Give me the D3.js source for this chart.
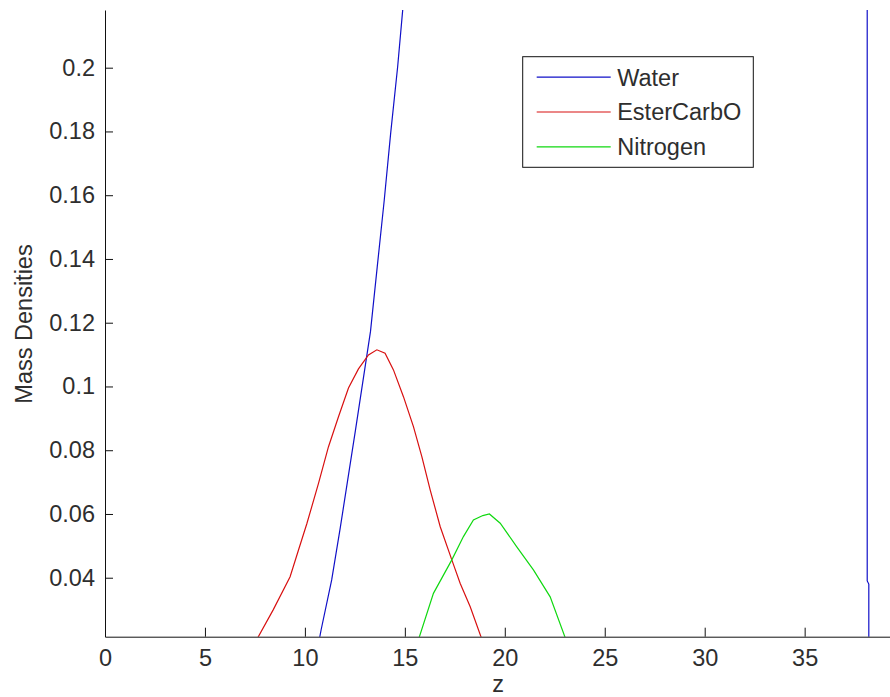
<!DOCTYPE html>
<html>
<head>
<meta charset="utf-8">
<script src="https://cdn.jsdelivr.net/npm/d3@7"></script>
<style>
  html, body { margin: 0; padding: 0; background: #fff; overflow: hidden; }
  svg { display: block; font-family: "Liberation Sans", Arial, sans-serif; }
  .axis text { font-size: 23.5px; fill: #2e2e2e; }
  .axis path, .axis line { stroke: #111; }
</style>
</head>
<body>
<script>
// series (z, mass density)
let waterZ = [10.64, 10.81, 11.34, 11.76, 12.53, 13.28, 13.62, 13.97, 14.29, 14.64, 14.89, 15.3, 16, 20, 30, 38.13, 38.13, 38.21, 38.21]
let waterV = [0.018, 0.0236, 0.0393, 0.0553, 0.0863, 0.1172, 0.1376, 0.1585, 0.1794, 0.2003, 0.2179, 0.2466, 0.3, 1.0, 1.0, 1.0, 0.039, 0.038, 0.018]

let esterZ = [7.45, 8.42, 9.26, 9.68, 10.1, 10.68, 11.18, 11.68, 12.18, 12.68, 13.18, 13.6, 14.01, 14.43, 14.93, 15.43, 15.85, 16.27, 16.77, 17.35, 17.77, 18.27, 18.95]
let esterV = [0.019, 0.030, 0.0403, 0.0487, 0.057, 0.0696, 0.0811, 0.0905, 0.0995, 0.1055, 0.1099, 0.1115, 0.1104, 0.1052, 0.0968, 0.0874, 0.078, 0.0675, 0.056, 0.0456, 0.0382, 0.0309, 0.019]

let nitroZ = [15.6, 16.43, 17.35, 17.93, 18.43, 18.9, 19.23, 19.77, 20.6, 21.44, 22.27, 23.15]
let nitroV = [0.019, 0.0351, 0.0456, 0.0529, 0.0581, 0.0595, 0.060, 0.0571, 0.0497, 0.0424, 0.034, 0.019]

let seriesNames = ["Water", "EsterCarbO", "Nitrogen"]
let seriesColors = ["#1010c8", "#d81010", "#10d810"]

let xTicks = [0, 5, 10, 15, 20, 25, 30, 35]
let yTicks = [0.04, 0.06, 0.08, 0.1, 0.12, 0.14, 0.16, 0.18, 0.2]

let w = 890
let h = 697
let plotLeft = 105
let plotTop = 10
let plotRight = 890.6
let plotBottom = 636.7

let svg = d3.select("body").append("svg")
  .attr("width", w)
  .attr("height", h)

let xScale = d3.scaleLinear().domain([0, 39.3]).range([plotLeft, plotRight])
let yScale = d3.scaleLinear().domain([0.0215, 0.2181]).range([plotBottom, plotTop])

svg.append("clipPath").attr("id", "plot-clip")
  .append("rect")
  .attr("x", plotLeft)
  .attr("y", plotTop)
  .attr("width", plotRight - plotLeft)
  .attr("height", plotBottom - plotTop)

// lines
let series = [
  {z: waterZ, v: waterV},
  {z: esterZ, v: esterV},
  {z: nitroZ, v: nitroV}
]

let line = d3.line()
  .x(d => xScale(d[0]))
  .y(d => yScale(d[1]))

let plot = svg.append("g").attr("clip-path", "url(#plot-clip)")

series.forEach((s, i) => {
  plot.append("path")
    .datum(s.z.map((z, j) => [z, s.v[j]]))
    .attr("d", line)
    .attr("fill", "none")
    .attr("stroke", seriesColors[i])
    .attr("stroke-width", 1.2)
})

// axes (ticks point inward like matlab)
let xAxis = d3.axisBottom(xScale)
  .tickValues(xTicks)
  .tickSizeInner(-9)
  .tickSizeOuter(0)
  .tickPadding(13)
svg.append("g")
  .attr("class", "axis")
  .attr("transform", "translate(0," + plotBottom + ")")
  .call(xAxis)

let yAxis = d3.axisLeft(yScale)
  .tickValues(yTicks)
  .tickFormat(d => String(+d.toFixed(2)))
  .tickSizeInner(-8)
  .tickSizeOuter(0)
  .tickPadding(10)
svg.append("g")
  .attr("class", "axis")
  .attr("transform", "translate(" + plotLeft + ",0)")
  .call(yAxis)

svg.selectAll(".axis").attr("font-family", null).attr("font-size", null)

// labels
svg.append("text")
  .text("z")
  .attr("x", 498)
  .attr("y", 692)
  .attr("text-anchor", "middle")
  .attr("font-size", 23.5)
  .attr("fill", "#2e2e2e")

svg.append("text")
  .text("Mass Densities")
  .attr("transform", "translate(32,324) rotate(-90)")
  .attr("text-anchor", "middle")
  .attr("font-size", 23.5)
  .attr("fill", "#2e2e2e")

// legend
let legend = svg.append("g").attr("transform", "translate(522.7,56.7)")
legend.append("rect")
  .attr("width", 230.6)
  .attr("height", 110.6)
  .attr("fill", "#fff")
  .attr("stroke", "#111")

seriesNames.forEach((name, i) => {
  let y = 20.5 + i * 34.8
  legend.append("line")
    .attr("x1", 14)
    .attr("x2", 88)
    .attr("y1", y)
    .attr("y2", y)
    .attr("stroke", seriesColors[i])
    .attr("stroke-width", 1.2)
  legend.append("text")
    .text(name)
    .attr("x", 94.5)
    .attr("y", y + 8.5)
    .attr("font-size", 23.5)
    .attr("fill", "#2e2e2e")
})
</script>
</body>
</html>
